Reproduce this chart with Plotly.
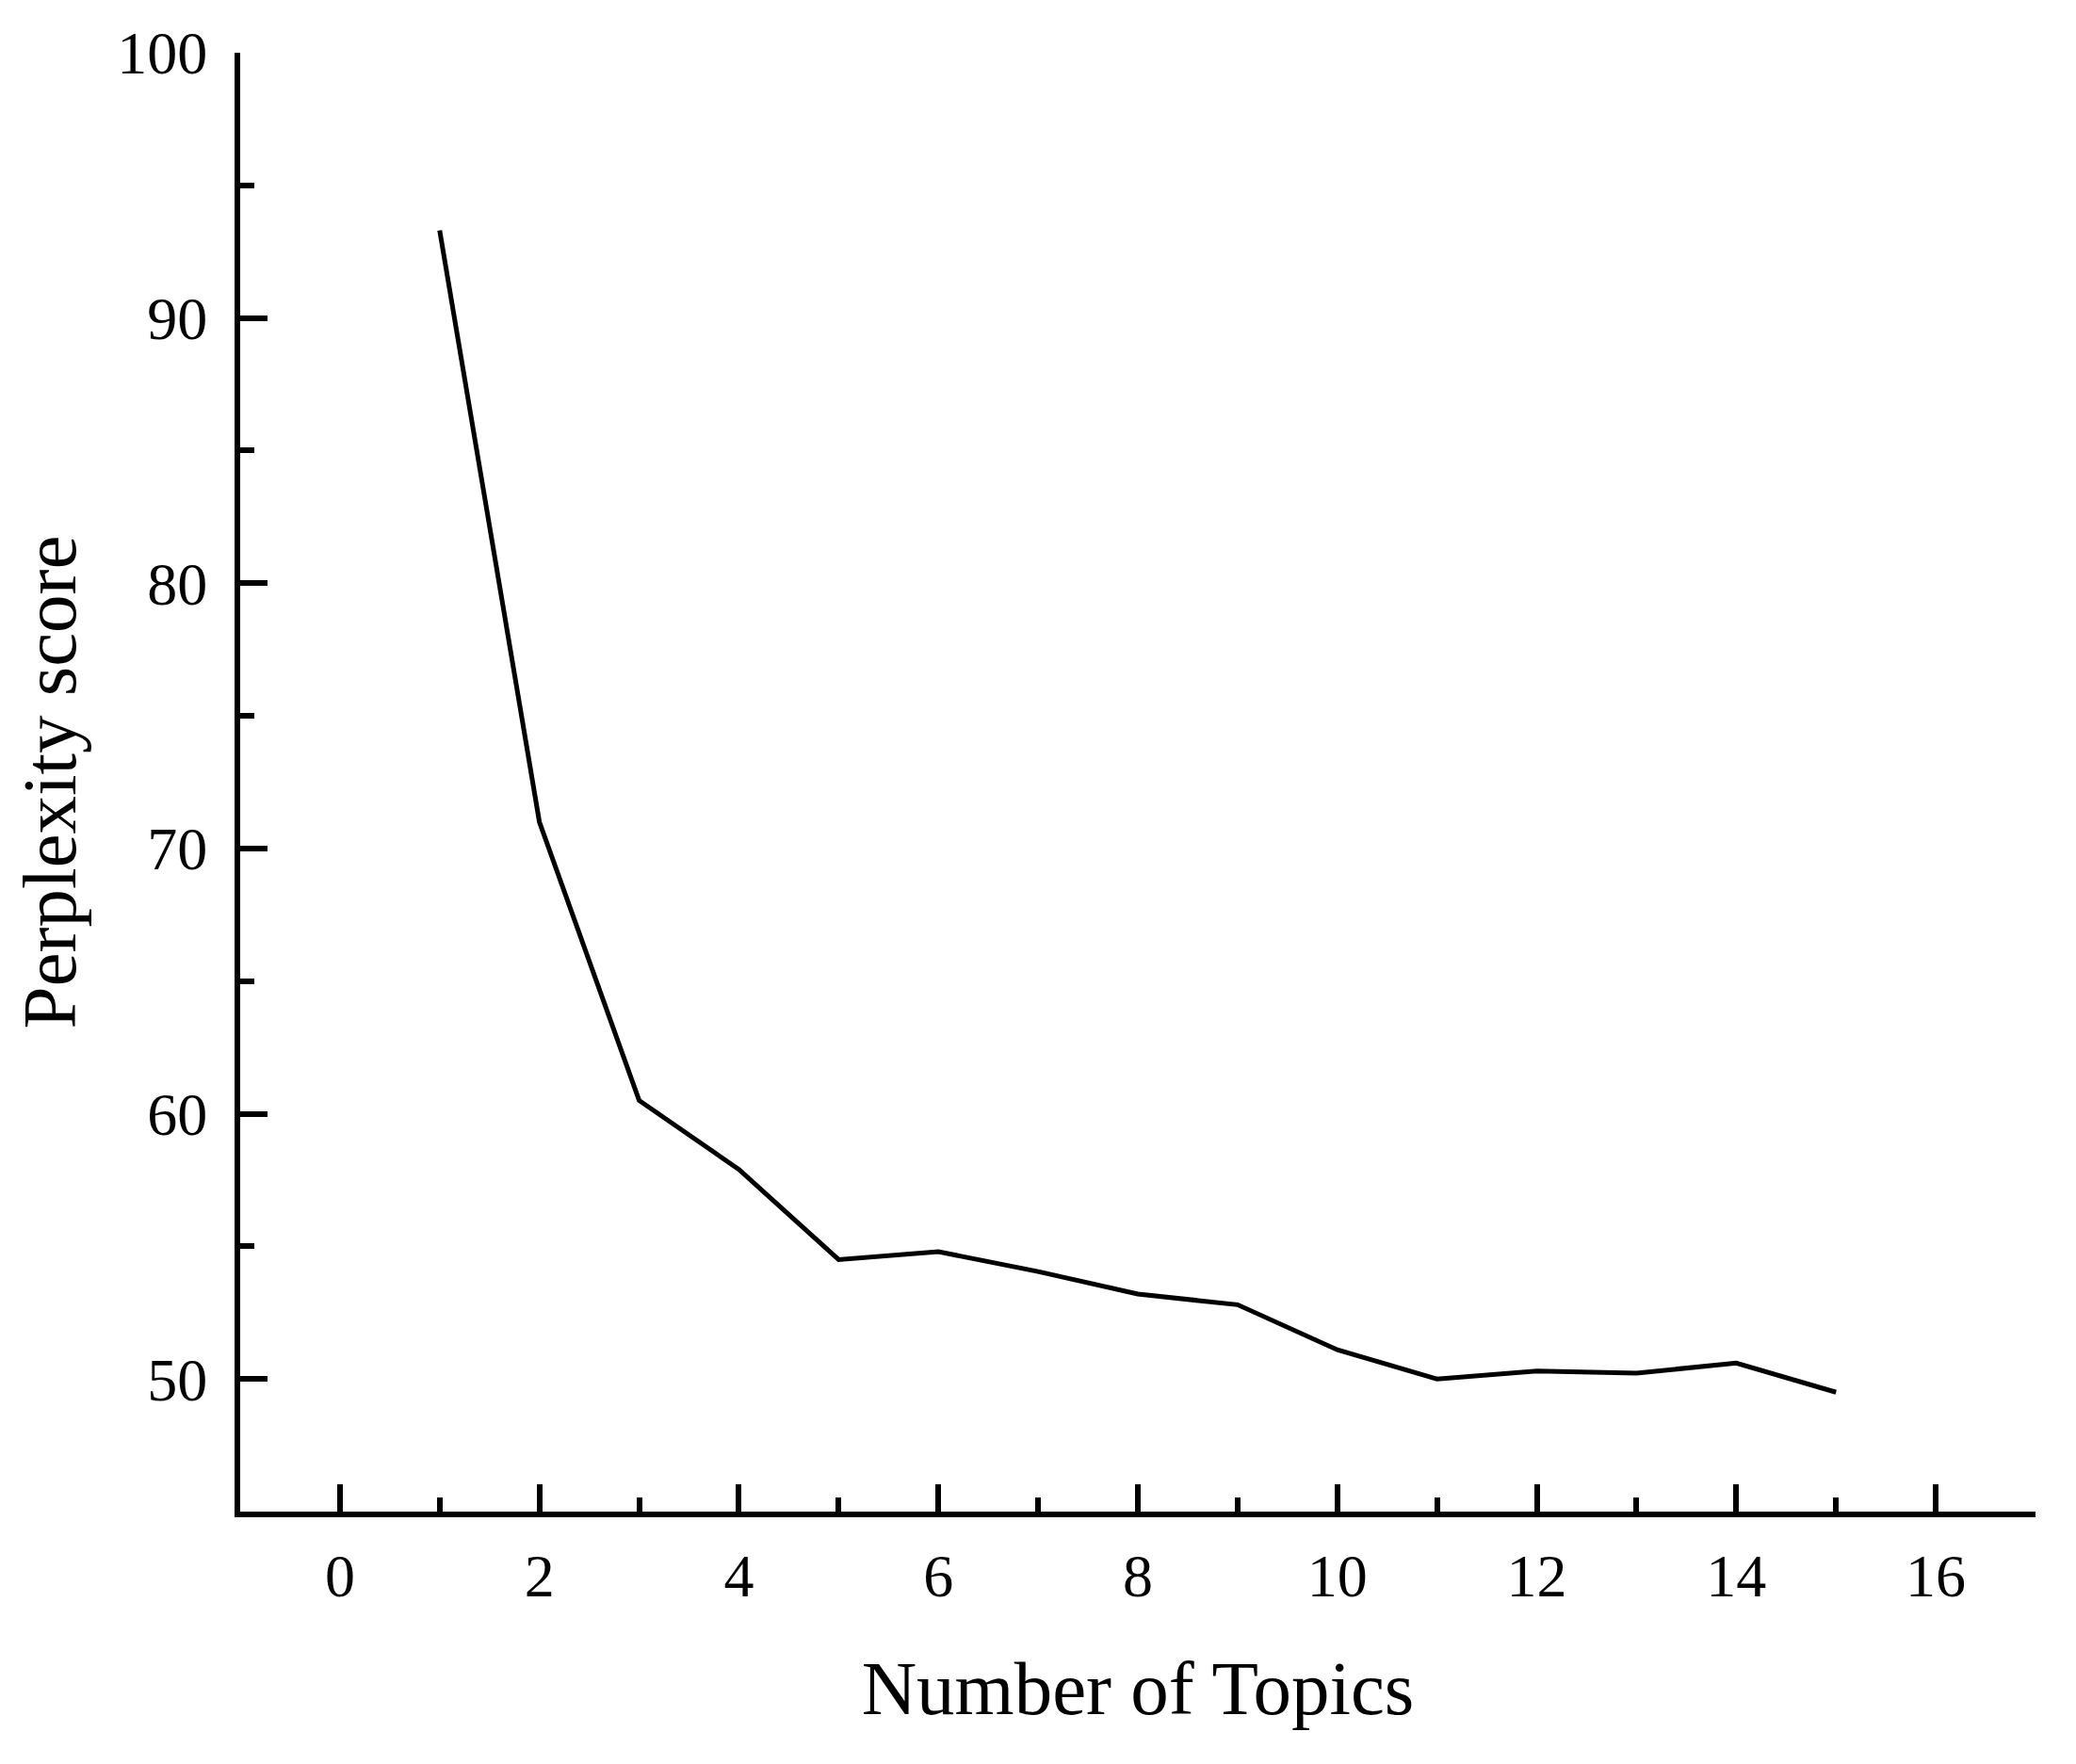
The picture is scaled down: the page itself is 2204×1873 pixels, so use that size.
import plotly.graph_objects as go

topics = [1, 2, 3, 4, 5, 6, 7, 8, 9, 10, 11, 12, 13, 14, 15]
perplexity = [93.3, 71.0, 60.5, 57.9, 54.5, 54.8, 54.05, 53.2, 52.8, 51.1, 50.0, 50.3, 50.22, 50.6, 49.5]

x_tickvals = [0, 2, 4, 6, 8, 10, 12, 14, 16]
y_tickvals = [50, 60, 70, 80, 90, 100]

FONT = "Liberation Serif"

fig = go.Figure(
    go.Scatter(
        x=topics,
        y=perplexity,
        mode="lines",
        line=dict(color="black", width=5),
        showlegend=False,
    )
)

# page body has an 8px margin: figure sized so that the page fits the window
fig.update_layout(
    width=2188,
    height=1857,
    margin=dict(l=247, r=35, t=48, b=260),
    paper_bgcolor="white",
    plot_bgcolor="white",
    font=dict(family=FONT, color="black", size=64),
)

fig.update_xaxes(
    range=[-1, 17],
    tickvals=x_tickvals,
    ticks="inside",
    ticklen=29,
    tickwidth=6,
    tickcolor="black",
    showline=True,
    linewidth=6,
    linecolor="black",
    showgrid=False,
    zeroline=False,
    tickfont=dict(family=FONT, size=64, color="black"),
    ticklabelstandoff=7,
    minor=dict(ticks="inside", ticklen=15, tickwidth=6, tickcolor="black", dtick=1, tick0=0, showgrid=False),
    title=dict(text="Number of Topics", font=dict(family=FONT, size=81, color="black"), standoff=58),
)

fig.update_yaxes(
    range=[45, 100],
    tickvals=y_tickvals,
    ticks="inside",
    ticklen=29,
    tickwidth=6,
    tickcolor="black",
    showline=True,
    linewidth=6,
    linecolor="black",
    showgrid=False,
    zeroline=False,
    tickfont=dict(family=FONT, size=64, color="black"),
    ticklabelstandoff=16,
    minor=dict(ticks="inside", ticklen=15, tickwidth=6, tickcolor="black", dtick=5, tick0=45, showgrid=False),
    title=dict(text="Perplexity score", font=dict(family=FONT, size=81, color="black"), standoff=25),
)

fig.write_html("out.html")
